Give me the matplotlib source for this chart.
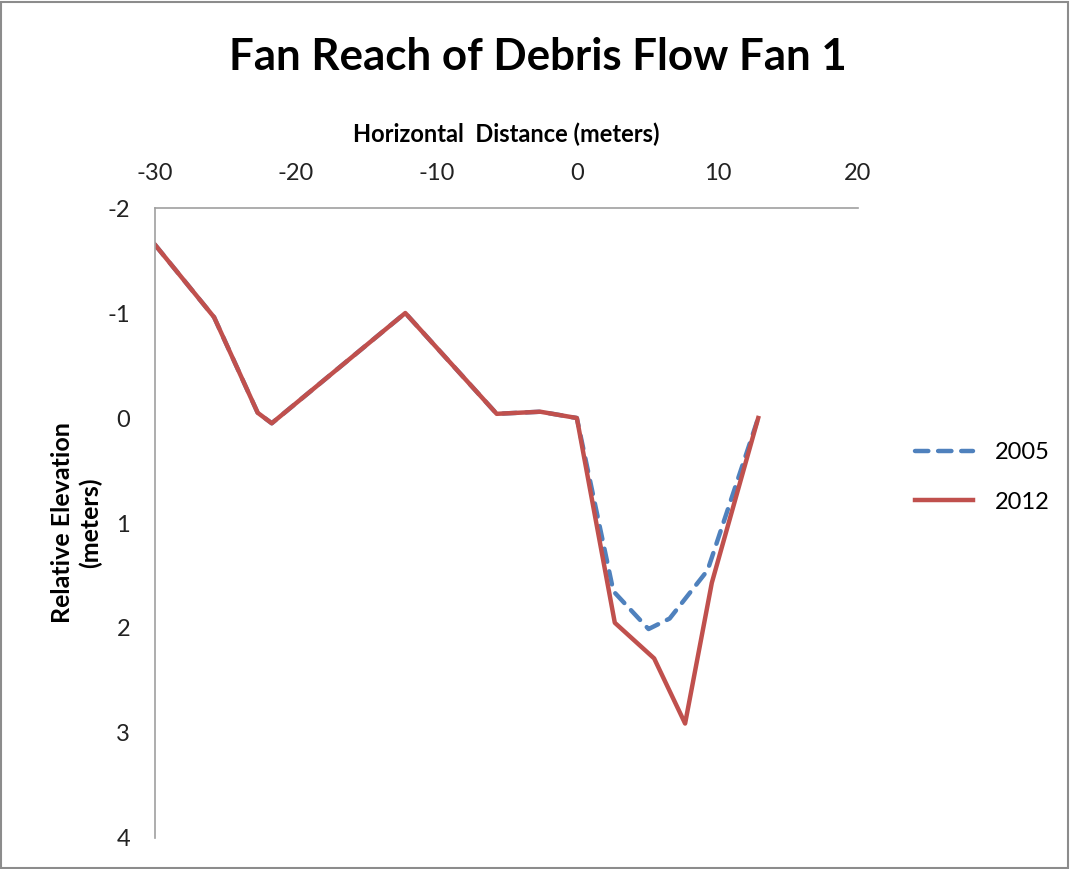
import matplotlib
matplotlib.use("Agg")
import matplotlib.pyplot as plt
from matplotlib.patches import Rectangle

# Perfis do leque 1 (distância horizontal x elevação relativa)
x_2012 = [-30.0, -25.8, -22.7, -21.7, -12.2, -5.7, -2.6, 0.0, 2.7, 5.5, 7.7, 9.6, 12.9]
y_2012 = [-1.65, -0.96, -0.05, 0.05, -1.0, -0.04, -0.06, 0.0, 1.95, 2.29, 2.91, 1.57, 0.0]

x_2005 = [-30.0, -25.8, -22.7, -21.7, -12.2, -5.7, -2.6, 0.0, 2.6, 5.1, 6.6, 9.3, 12.9]
y_2005 = [-1.65, -0.96, -0.05, 0.05, -1.0, -0.04, -0.06, 0.0, 1.65, 2.01, 1.91, 1.45, 0.0]

x_ticks = [-30, -20, -10, 0, 10, 20]
y_ticks = [-2, -1, 0, 1, 2, 3, 4]

plt.rcParams['font.family'] = ['Lato', 'DejaVu Sans']
plt.rcParams['axes.unicode_minus'] = False

fig = plt.figure(figsize=(10.70, 8.69), dpi=100)
ax = fig.add_axes([0.1449, 0.0357, 0.8019 - 0.1449, 0.7606 - 0.0357])

# borda externa do gráfico
fig.patches.append(Rectangle((0.001, 0.001), 0.997, 0.997, transform=fig.transFigure,
                             fill=False, edgecolor='#8c8c8c', linewidth=1.5))

ax.plot(x_2005, y_2005, color='#4F81BD', linewidth=3.2, linestyle=(0, (3, 2.2)),
        dash_capstyle='round', label='2005')
ax.plot(x_2012, y_2012, color='#C0504D', linewidth=3.2, label='2012')

ax.set_xlim(-30, 20)
ax.set_ylim(4, -2)
ax.set_xticks(x_ticks)
ax.set_yticks(y_ticks)
ax.xaxis.tick_top()
ax.xaxis.set_label_position('top')
ax.tick_params(axis='both', length=0, labelsize=17, colors='#222222')
ax.tick_params(axis='x', pad=17.5)
ax.tick_params(axis='y', pad=18)

for side in ['right', 'bottom']:
    ax.spines[side].set_visible(False)
for side in ['top', 'left']:
    ax.spines[side].set_color('#a0a0a0')
    ax.spines[side].set_linewidth(1.2)

ax.set_xlabel('Horizontal  Distance (meters)', fontsize=17, fontweight='bold', labelpad=15)
ax.set_ylabel('Relative Elevation\n(meters)', fontsize=18, fontweight='bold', labelpad=4)

fig.text(0.5024, 0.934, 'Fan Reach of Debris Flow Fan 1', ha='center', va='center',
         fontsize=31.6, fontweight='bold')

ax.legend(loc='center left', bbox_to_anchor=(1.051, 0.5725), frameon=False, fontsize=17,
          handlelength=2.45, handletextpad=0.93, labelspacing=1.2)

plt.savefig('out.png', dpi=100)
